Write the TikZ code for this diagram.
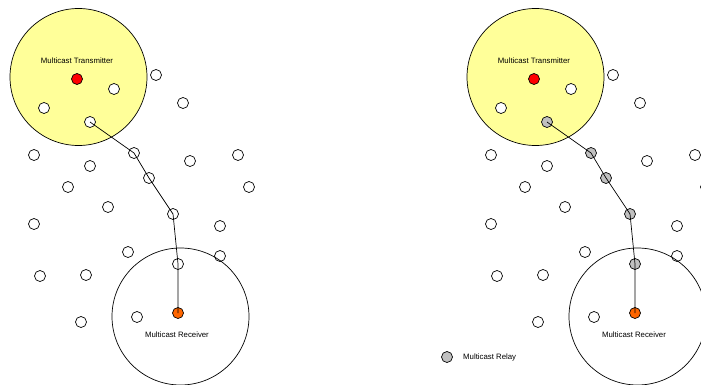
\documentclass[tikz,border=0pt]{standalone}
\usepackage{fontspec}
\setmainfont{Liberation Sans}
\usetikzlibrary{positioning}
\definecolor{rangeyellow}{RGB}{255,255,153}
\definecolor{relaygray}{RGB}{192,192,192}
\definecolor{rxorange}{RGB}{255,102,0}
\tikzset{
  station/.style={circle, draw, fill=white, minimum size=11pt, inner sep=0pt},
  coverage/.style={circle, draw, minimum size=137pt, inner sep=0pt},
  lbl/.style={inner sep=0pt, font=\fontsize{7.8}{9}\selectfont}
}

\begin{document}
\begin{tikzpicture}[x=1pt, y=-1pt, line width=.7pt]
\useasboundingbox (0,0) rectangle (701,385);
\clip (0,0) rectangle (701,385);
\foreach \s/\dx/\rf in {L/0/white, R/457/relaygray}{
  \begin{scope}[xshift=\dx pt]
    % coverage of sender
    \node[coverage, fill=rangeyellow] (\s-txrange) at (78.5,77) {};
    \node[lbl] (\s-txlabel) at (77,61) {Multicast Transmitter};
    % idle stations
    \foreach \p [count=\i] in {(156,75),(114,89),(44,108),(183,103),(34,155),
        (90,166),(190,161),(238,155),(68,187),(249,187),(108,207),(34,224),
        (220,226),(128,252),(220,256),(40,276),(86,275),(81,322),(137,317)}
      \node[station] (\s-n\i) at \p {};
    % coverage of receiver
    \node[coverage] (\s-rxrange) at (180.5,316.5) {};
    \node[lbl] (\s-rxlabel) at (177,335) {Multicast Receiver};
    % sender, relays, receiver
    \node[station, fill=red] (\s-tx) at (77,79) {};
    \node[station, fill=\rf] (\s-r1) at (90,122) {};
    \node[station, fill=\rf] (\s-r2) at (134,153) {};
    \node[station, fill=\rf] (\s-r3) at (149,178) {};
    \node[station, fill=\rf] (\s-r4) at (173,214) {};
    \node[station, fill=\rf] (\s-r5) at (178,264) {};
    \node[station, fill=rxorange] (\s-rx) at (178,313) {};
    \draw (\s-r1.center) -- (\s-r2.center) -- (\s-r3.center) -- (\s-r4.center)
      -- (\s-r5.center) -- (\s-rx.center);
  \end{scope}
}
% legend
\node[station, fill=relaygray] (relaykey) at (447,357) {};
\node[lbl, right=10pt of relaykey] (relaytext) {Multicast Relay};
\end{tikzpicture}
\end{document}
